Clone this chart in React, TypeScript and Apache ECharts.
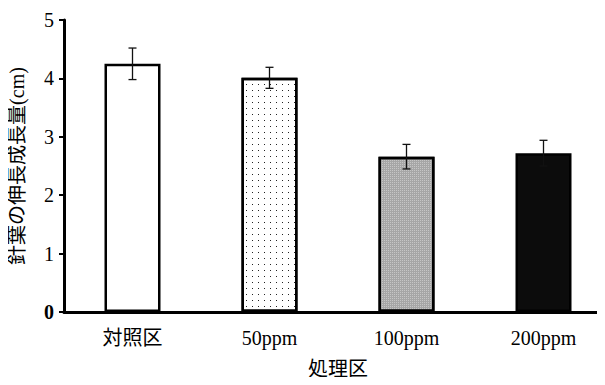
import React, { useEffect, useRef } from "react";
import * as echarts from "echarts";

const categories = ["対照区", "50ppm", "100ppm", "200ppm"];
const means = [4.25, 4.01, 2.66, 2.72];
const errors = [0.27, 0.18, 0.21, 0.22];
const yTicks = [0, 1, 2, 3, 4, 5];

const FONT = "'Liberation Serif', 'DejaVu Serif', 'Noto Sans CJK JP', serif";

export default function App() {
  const ref = useRef<HTMLDivElement>(null);
  useEffect(() => {
    if (!ref.current) return;
    const chart = echarts.init(ref.current, undefined, { renderer: "svg" });
    const barStyles = [
      { color: "#ffffff" },
      {
        color: "#ffffff",
        decal: {
          symbol: "rect",
          symbolSize: 1,
          color: "#222222",
          dashArrayX: [1, 5],
          dashArrayY: [1, 5],
          rotation: 0,
        },
      },
      {
        color: "#a6a6a6",
        decal: {
          symbol: "rect",
          symbolSize: 0.8,
          color: "rgba(255,255,255,0.45)",
          dashArrayX: [1, 1],
          dashArrayY: [1, 1],
          rotation: 0,
        },
      },
      { color: "#0c0c0c" },
    ];
    const option = {
      animation: false,
      backgroundColor: "#ffffff",
      grid: { left: 64, top: 20, bottom: 73, width: 548, containLabel: false, outerBoundsMode: "none" },
      xAxis: {
        type: "category",
        data: categories,
        name: "処理区",
        nameLocation: "middle",
        nameGap: 47,
        nameTextStyle: { fontFamily: FONT, fontSize: 20, color: "#000" },
        axisLine: { lineStyle: { color: "#000", width: 3 } },
        axisTick: { show: false },
        axisLabel: { margin: 16, fontFamily: FONT, fontSize: 20, color: "#000" },
      },
      yAxis: {
        type: "value",
        min: 0,
        max: 5,
        interval: 1,
        name: "針葉の伸長成長量(cm)",
        nameLocation: "middle",
        nameGap: 37,
        nameRotate: 90,
        nameTextStyle: { fontFamily: FONT, fontSize: 20, color: "#000" },
        axisLine: { show: true, lineStyle: { color: "#000", width: 3 } },
        axisTick: { show: true, inside: false, length: 5, lineStyle: { color: "#000", width: 2 } },
        splitLine: { show: false },
        axisLabel: {
          margin: 10,
          fontFamily: FONT,
          fontSize: 20,
          color: "#000",
          formatter: (v: number) => (v === 0 ? "{z|" + v + "}" : String(v)),
          rich: { z: { fontFamily: FONT, fontSize: 20, fontWeight: "bold", color: "#000" } },
        },
        data: yTicks,
      },
      series: [
        {
          type: "bar",
          barWidth: 56,
          data: means.map((v, i) => ({
            value: v,
            itemStyle: { ...barStyles[i], borderColor: "#000", borderWidth: 2.5 },
          })),
        },
        {
          type: "custom",
          data: means.map((m, i) => [i, m + errors[i], m - errors[i]]),
          renderItem: (params: any, api: any) => {
            const x = api.value(0);
            const hi = api.coord([x, api.value(1)]);
            const lo = api.coord([x, api.value(2)]);
            const cap = 4;
            const st = { stroke: "#111", lineWidth: 1.3 };
            return {
              type: "group",
              children: [
                { type: "line", shape: { x1: hi[0], y1: hi[1], x2: lo[0], y2: lo[1] }, style: st },
                { type: "line", shape: { x1: hi[0] - cap, y1: hi[1], x2: hi[0] + cap, y2: hi[1] }, style: st },
                { type: "line", shape: { x1: lo[0] - cap, y1: lo[1], x2: lo[0] + cap, y2: lo[1] }, style: st },
              ],
            };
          },
          z: 5,
        },
      ],
    };
    chart.setOption(option as any);
    return () => chart.dispose();
  }, []);
  return <div ref={ref} style={{ width: 605, height: 385, margin: -8 }} />;
}
